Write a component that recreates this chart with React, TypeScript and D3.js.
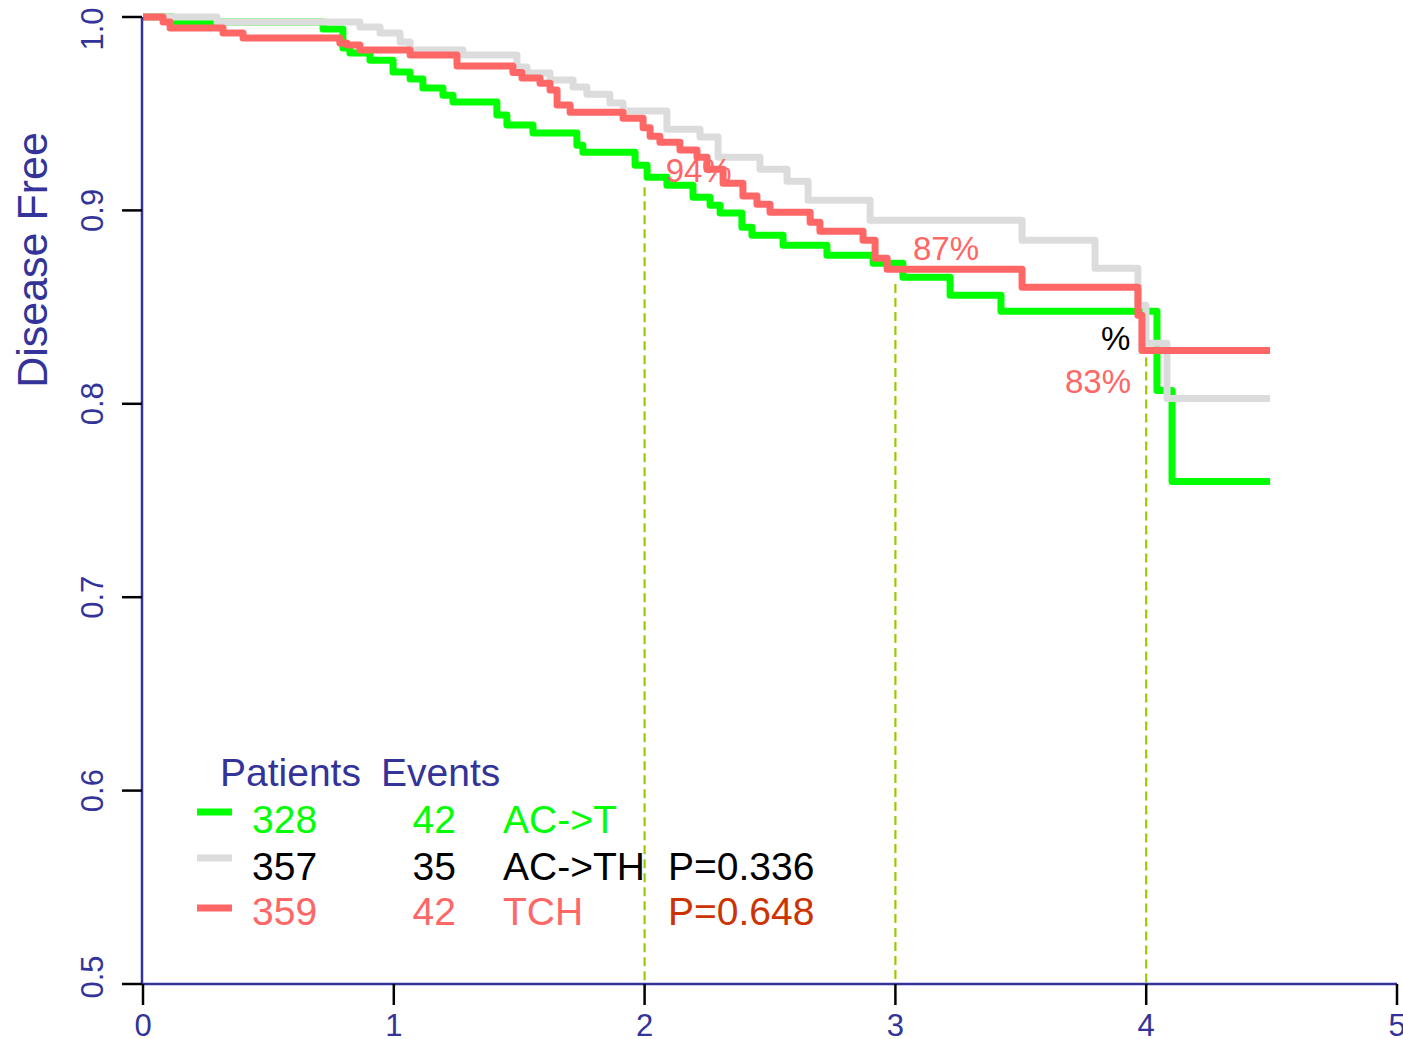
import React from "react";
import * as d3 from "d3";

// ---- data ----
const endTime = 4.494;
const acT: [number, number][] = [
  [0, 1.0], [0.12, 0.9974], [0.718, 0.9938], [0.797, 0.984], [0.825, 0.9814], [0.905, 0.9777],
  [0.997, 0.9715], [1.065, 0.9679], [1.116, 0.9633], [1.196, 0.9596], [1.236, 0.956],
  [1.411, 0.9493], [1.451, 0.9441], [1.555, 0.94], [1.73, 0.9337], [1.754, 0.9301],
  [1.962, 0.9234], [2.01, 0.9172], [2.089, 0.913], [2.193, 0.9068], [2.261, 0.9027],
  [2.301, 0.8986], [2.388, 0.8913], [2.428, 0.8872], [2.552, 0.882], [2.727, 0.8768],
  [2.911, 0.8727], [3.03, 0.8654], [3.218, 0.8561], [3.421, 0.8478], [4.043, 0.8069],
  [4.103, 0.7598],
];
const acTH: [number, number][] = [
  [0, 1.0], [0.295, 0.9974], [0.865, 0.9948], [0.945, 0.9917], [1.025, 0.9871], [1.065, 0.9829],
  [1.276, 0.9803], [1.491, 0.9741], [1.531, 0.971], [1.623, 0.9674], [1.715, 0.9638],
  [1.77, 0.96], [1.862, 0.9555], [1.914, 0.9514], [2.089, 0.942], [2.221, 0.9379],
  [2.293, 0.9275], [2.46, 0.9213], [2.568, 0.9151], [2.652, 0.9053], [2.899, 0.8949],
  [3.505, 0.8846], [3.796, 0.8701], [3.967, 0.8509], [3.999, 0.8313], [4.083, 0.8028],
];
const tch: [number, number][] = [
  [0, 1.0], [0.08, 0.9974], [0.108, 0.9943], [0.319, 0.9917], [0.399, 0.9891], [0.785, 0.9865],
  [0.813, 0.9855], [0.865, 0.9829], [1.065, 0.9803], [1.252, 0.9746], [1.475, 0.9713],
  [1.511, 0.9684], [1.583, 0.9658], [1.623, 0.9622], [1.651, 0.9545], [1.703, 0.9508],
  [1.914, 0.9477], [1.994, 0.9428], [2.022, 0.9384], [2.061, 0.9353], [2.141, 0.9312],
  [2.209, 0.9275], [2.249, 0.9213], [2.313, 0.9141], [2.392, 0.9074], [2.448, 0.9032],
  [2.5, 0.8991], [2.66, 0.8939], [2.699, 0.8892], [2.871, 0.8846], [2.919, 0.8753],
  [2.967, 0.8696], [3.505, 0.8602], [3.967, 0.8458], [3.983, 0.8276],
];
const seriesNames = ["AC->T", "AC->TH", "TCH"];
const patients = [328, 357, 359];
const events = [42, 35, 42];
const pValues = ["", "P=0.336", "P=0.648"];
const xTicks = [0, 1, 2, 3, 4, 5];
const yTicks = [0.5, 0.6, 0.7, 0.8, 0.9, 1.0];
const markTimes = [2, 3, 4];
const markTops = [0.912, 0.862, 0.824];
const annotations: { t: number; s: number; label: string; color: string }[] = [
  { t: 2.084, s: 0.9147, label: "94%", color: "#ff6666" },
  { t: 3.07, s: 0.8744, label: "87%", color: "#ff6666" },
  { t: 3.676, s: 0.8056, label: "83%", color: "#ff6666" },
  { t: 3.82, s: 0.8278, label: "%", color: "#000000" },
];

const COLORS = ["#00ff00", "#dcdcdc", "#ff6666"];
const P_COLORS = ["#000000", "#000000", "#cc3300"];
const BLUE = "#333399";
const FONT = "'Liberation Sans', Arial, Helvetica, sans-serif";

export default function App() {
  const W = 1403, H = 1039;
  const x = d3.scaleLinear().domain([0, 5]).range([143, 1397]);
  const y = d3.scaleLinear().domain([0.5, 1.0]).range([984, 17]);
  const line = d3
    .line<[number, number]>()
    .x((d) => x(d[0]))
    .y((d) => y(d[1]))
    .curve(d3.curveStepAfter);
  const withEnd = (s: [number, number][]) => [...s, [endTime, s[s.length - 1][1]] as [number, number]];
  const curves = [acT, acTH, tch];
  const drawOrder = [0, 1, 2];

  const legX = 197;
  const rowY = [833, 880, 925];
  const swatchY = [812, 858, 908];

  return (
    <svg width={W} height={H} style={{ position: "absolute", left: 0, top: 0, display: "block", background: "#fff" }} fontFamily={FONT}>
      {/* dashed markers */}
      {markTimes.map((t, i) => (
        <line key={"m" + t} x1={x(t)} x2={x(t)} y1={y(markTops[i])} y2={y(0.5)} stroke="#99cc00" strokeWidth={2.2} strokeDasharray="9,5" />
      ))}
      {/* curves */}
      {drawOrder.map((i) => (
        <path key={"c" + i} d={line(withEnd(curves[i])) || ""} fill="none" stroke={COLORS[i]} strokeWidth={7} strokeLinejoin="round" />
      ))}
      {/* annotations */}
      {annotations.map((a) => (
        <text key={a.label} x={x(a.t)} y={y(a.s)} fontSize={33} fill={a.color}>{a.label}</text>
      ))}

      {/* axes */}
      <line x1={142} x2={142} y1={y(1.0)} y2={y(0.5)} stroke={BLUE} strokeWidth={2.5} />
      <line x1={142} x2={1397} y1={984} y2={984} stroke={BLUE} strokeWidth={2.5} />
      {yTicks.map((v) => (
        <g key={"y" + v}>
          <line x1={122} x2={142} y1={y(v)} y2={y(v)} stroke="#000" strokeWidth={2.5} />
          <text transform={`translate(103,${Math.min(Math.max(y(v), 29), 977)}) rotate(-90)`} textAnchor="middle" fontSize={31} fill={BLUE}>
            {v.toFixed(1)}
          </text>
        </g>
      ))}
      {xTicks.map((v) => (
        <g key={"x" + v}>
          <line x1={x(v)} x2={x(v)} y1={984} y2={1005} stroke="#000" strokeWidth={2.5} />
          <text x={x(v)} y={1036} textAnchor="middle" fontSize={31} fill={BLUE}>{v}</text>
        </g>
      ))}
      <text transform={`translate(47,260) rotate(-90)`} textAnchor="middle" fontSize={43} fill={BLUE}>Disease Free</text>

      {/* legend */}
      <text x={220} y={786} fontSize={39} fill={BLUE}>Patients</text>
      <text x={381} y={786} fontSize={39} fill={BLUE}>Events</text>
      {seriesNames.map((n, i) => (
        <g key={"l" + n}>
          <line x1={legX} x2={legX + 35} y1={swatchY[i]} y2={swatchY[i]} stroke={COLORS[i]} strokeWidth={7} />
          <text x={252} y={rowY[i]} fontSize={39} fill={i === 1 ? "#000" : COLORS[i]}>{patients[i]}</text>
          <text x={456} y={rowY[i]} textAnchor="end" fontSize={39} fill={i === 1 ? "#000" : COLORS[i]}>{events[i]}</text>
          <text x={503} y={rowY[i]} fontSize={39} fill={i === 1 ? "#000" : COLORS[i]}>{n}</text>
          {pValues[i] && (
            <text x={668} y={rowY[i]} fontSize={39} fill={P_COLORS[i]}>{pValues[i]}</text>
          )}
        </g>
      ))}
    </svg>
  );
}
